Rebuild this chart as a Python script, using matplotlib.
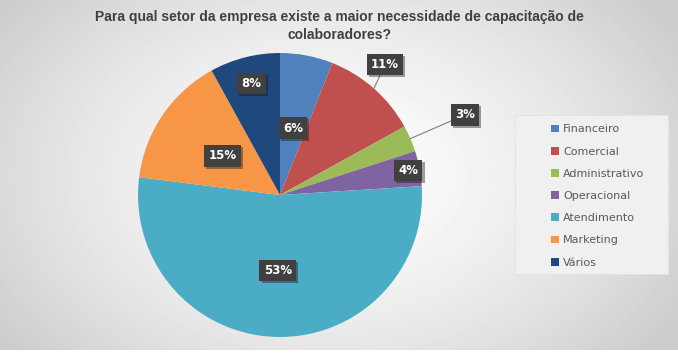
import numpy as np
import matplotlib.pyplot as plt
import matplotlib.patheffects as pe
from matplotlib.patches import Rectangle

# data
setores = ['Financeiro', 'Comercial', 'Administrativo', 'Operacional',
           'Atendimento', 'Marketing', 'Vários']
valores = [6, 11, 3, 4, 53, 15, 8]
cores = ['#4F81BD', '#C0504D', '#9BBB59', '#8064A2', '#4BACC6', '#F79646', '#1F497D']
titulo = 'Para qual setor da empresa existe a maior necessidade de capacitação de\ncolaboradores?'

# label distance from centre (fraction of radius); >1 means outside with a leader line
pos_label = [0.48, 1.2, 1.42, 0.92, 0.53, 0.49, 0.81]

fig = plt.figure(figsize=(6.78, 3.57), dpi=100)
fig.patch.set_facecolor('white')

# radial gradient background (chart area only, white strip at the bottom)
bg = fig.add_axes([0, 7 / 357, 1, 350 / 357])
yy, xx = np.mgrid[0:350, 0:678]
d = np.sqrt(((xx - 330) / 380.0) ** 2 + ((yy - 175) / 260.0) ** 2)
g = 0.99 - 0.17 * d ** 1.6
g = np.clip(g, 0.80, 1.0)
bg.imshow(g, cmap='gray', vmin=0, vmax=1, aspect='auto', interpolation='bilinear')
bg.axis('off')

fig.text(0.5, 1 - 10 / 357, titulo, ha='center', va='top', fontsize=10,
         fontweight='bold', color='#404040', family='Liberation Sans', linespacing=1.35)

ax = fig.add_axes([138 / 678, 20 / 357, 284 / 678, 284 / 357])
wedges, _ = ax.pie(valores, colors=cores, startangle=90, counterclock=False,
                   radius=1, wedgeprops=dict(linewidth=0))
ax.set_xlim(-1, 1)
ax.set_ylim(-1, 1)
ax.set_aspect('equal')
ax.axis('off')

box = dict(boxstyle='square,pad=0.35', fc='#404040', ec='none')
shadow = [pe.withSimplePatchShadow(offset=(1.5, -1.5), alpha=0.4)]
for w, v, r in zip(wedges, valores, pos_label):
    ang = np.deg2rad((w.theta1 + w.theta2) / 2)
    ex, ey = np.cos(ang), np.sin(ang)
    if r > 1:
        if v == 3:
            tx, ty = ex * r, ey * r
        else:
            tx, ty = ex * 1.12, ey * 1.12 + 0.08
        t = ax.annotate(f'{v}%', xy=(ex, ey), xytext=(tx, ty), ha='center',
                        va='center', fontsize=8.5, fontweight='bold', color='white',
                        bbox=box, annotation_clip=False,
                        arrowprops=dict(arrowstyle='-', color='#7f7f7f', lw=0.8,
                                        shrinkA=0, shrinkB=0))
    else:
        t = ax.text(ex * r, ey * r, f'{v}%', ha='center', va='center', fontsize=8.5,
                    fontweight='bold', color='white', bbox=box)
    t.get_bbox_patch().set_path_effects(shadow)

# legend panel
fig.patches.append(Rectangle((515 / 678, 1 - 274 / 357), 153 / 678, 159 / 357,
                             transform=fig.transFigure, fc='#f0f0f0', ec='#e2e2e2',
                             lw=0.6, zorder=1))
leg = fig.legend(wedges, setores, loc='upper left', bbox_to_anchor=(548 / 678, 1 - 121 / 357),
                 frameon=False, fontsize=8, labelcolor='#595959', handlelength=0.7,
                 handleheight=0.7, handletextpad=0.35, labelspacing=1.1,
                 borderpad=0.3, borderaxespad=0)

fig.savefig('out.png', dpi=100)
